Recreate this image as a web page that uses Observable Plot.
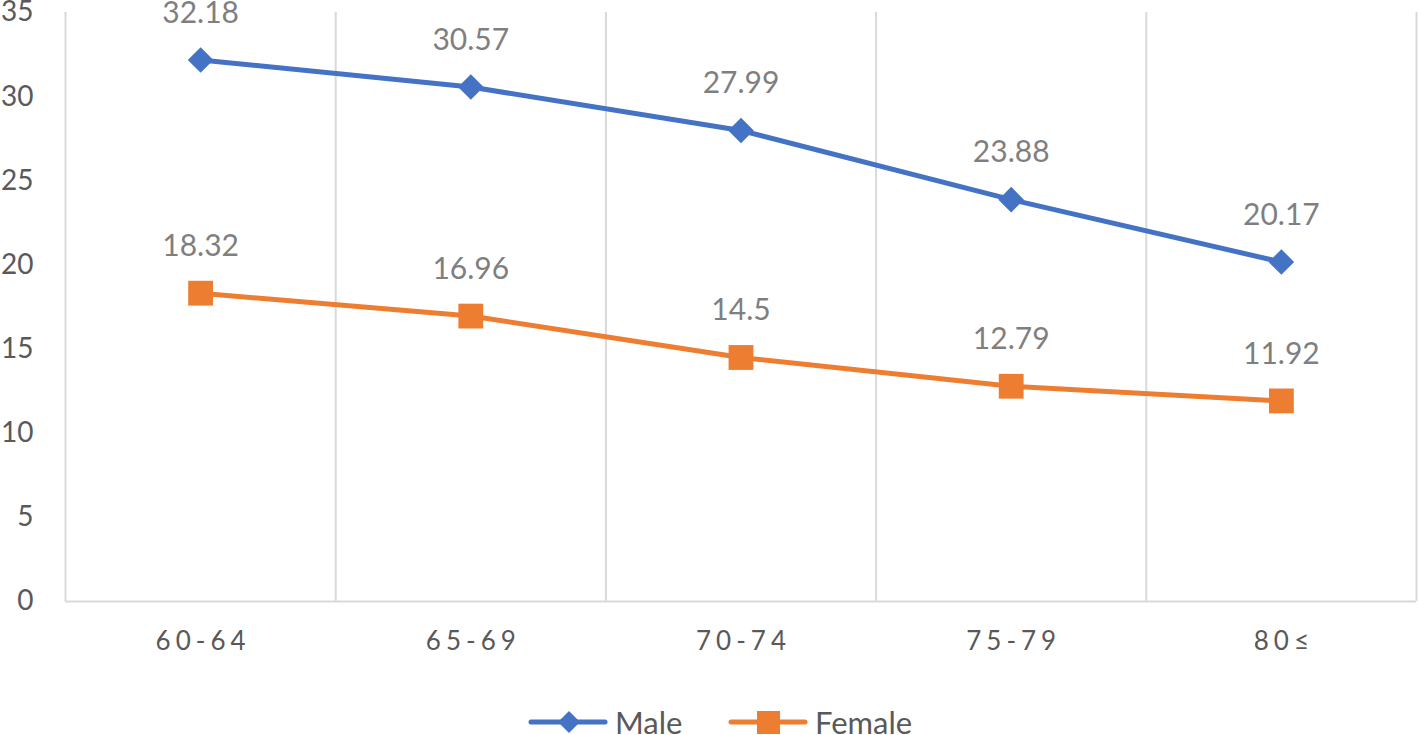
<!DOCTYPE html>
<html>
<head>
<meta charset="utf-8">
<script src="https://cdn.jsdelivr.net/npm/d3@7"></script>
<script src="https://cdn.jsdelivr.net/npm/@observablehq/plot@0.6"></script>
<style>
  html, body { margin: 0; padding: 0; background: #fff; }
  body { width: 1419px; height: 735px; overflow: hidden; font-family: Lato, "Open Sans", sans-serif; position: relative; }
  #chart svg { display: block; }
  #legend { position: absolute; left: 0; top: 700px; width: 1419px; height: 35px; }
  .item { position: absolute; top: 0; height: 44px; display: flex; align-items: center; }
  .item span { font-size: 31px; color: #595959; margin-left: 7px; white-space: nowrap; }
</style>
</head>
<body>
<div id="chart"></div>
<div id="legend"></div>
<script>
const categories = ["60-64", "65-69", "70-74", "75-79", "80≤"];
const male = [32.18, 30.57, 27.99, 23.88, 20.17];
const female = [18.32, 16.96, 14.5, 12.79, 11.92];
const yTicks = [0, 5, 10, 15, 20, 25, 30, 35];
const seriesNames = ["Male", "Female"];
const colors = ["#4472C4", "#ED7D31"];

const maleData = male.map((v, i) => ({i, v}));
const femaleData = female.map((v, i) => ({i, v}));
const gridX = d3.range(-0.5, categories.length, 1);

const chart = Plot.plot({
  width: 1419,
  height: 700,
  marginLeft: 65,
  marginRight: 3,
  marginTop: 12,
  marginBottom: 99,
  style: {fontFamily: "Lato, 'Open Sans', sans-serif", background: "#fff"},
  x: {type: "linear", domain: [-0.5, categories.length - 0.5], axis: null},
  y: {domain: [0, 35], axis: null},
  marks: [
    Plot.ruleX(gridX, {x: d => d, y1: 0, y2: 35, stroke: "#d9d9d9", strokeWidth: 2}),
    Plot.ruleY([0], {stroke: "#d9d9d9", strokeWidth: 2}),
    Plot.text(yTicks, {x: -0.5, y: d => d, text: d => String(d), textAnchor: "end", dx: -32, fontSize: 28, fill: "#595959"}),
    Plot.text(categories, {x: (d, i) => i, y: 0, text: d => d, dy: 40, dx: 2.5, fontSize: 26, fill: "#595959", className: "xlab"}),
    Plot.line(maleData, {x: "i", y: "v", stroke: colors[0], strokeWidth: 5}),
    Plot.line(femaleData, {x: "i", y: "v", stroke: colors[1], strokeWidth: 5}),
    Plot.dot(maleData, {x: "i", y: "v", symbol: "diamond2", r: 11.5, fill: colors[0], stroke: "none"}),
    Plot.dot(femaleData, {x: "i", y: "v", symbol: "square", r: 14, fill: colors[1], stroke: "none"}),
    Plot.text(maleData, {x: "i", y: "v", text: d => String(d.v), dy: -47, fontSize: 30, fill: "#7f7f7f"}),
    Plot.text(femaleData, {x: "i", y: "v", text: d => String(d.v), dy: -47, fontSize: 30, fill: "#7f7f7f"})
  ]
});
document.getElementById("chart").append(chart);

// letter-spaced category labels
d3.select(chart).selectAll("text")
  .filter(function() { return categories.includes(this.textContent); })
  .style("letter-spacing", "5px");

// Legend
const legend = document.getElementById("legend");
const legendLeft = [528, 728];
seriesNames.forEach((name, k) => {
  const item = document.createElement("div");
  item.className = "item";
  item.style.left = legendLeft[k] + "px";
  const ns = "http://www.w3.org/2000/svg";
  const svg = document.createElementNS(ns, "svg");
  svg.setAttribute("width", 80);
  svg.setAttribute("height", 30);
  const line = document.createElementNS(ns, "line");
  line.setAttribute("x1", 3); line.setAttribute("x2", 77);
  line.setAttribute("y1", 15); line.setAttribute("y2", 15);
  line.setAttribute("stroke", colors[k]); line.setAttribute("stroke-width", 5);
  line.setAttribute("stroke-linecap", "round");
  svg.append(line);
  const marker = document.createElementNS(ns, "path");
  marker.setAttribute("d", k === 0 ? "M41,4L52,15L41,26L30,15Z" : "M29,4H52V27H29Z");
  marker.setAttribute("fill", colors[k]);
  svg.append(marker);
  const span = document.createElement("span");
  span.textContent = name;
  item.append(svg, span);
  legend.append(item);
});
</script>
</body>
</html>
